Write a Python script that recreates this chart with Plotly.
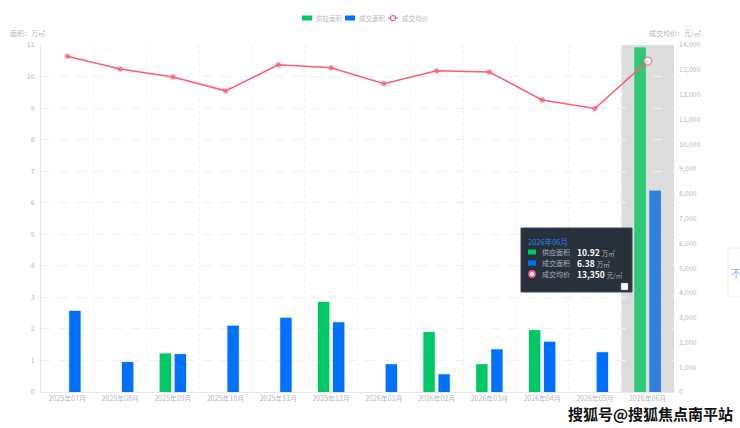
import plotly.graph_objects as go

months = ["2025年07月", "2025年08月", "2025年09月", "2025年10月", "2025年11月", "2025年12月",
          "2026年01月", "2026年02月", "2026年03月", "2026年04月", "2026年05月", "2026年06月"]
supply = [None, None, 1.22, None, None, 2.85, None, 1.90, 0.88, 1.96, None, 10.92]
deal = [2.57, 0.95, 1.20, 2.10, 2.35, 2.21, 0.88, 0.56, 1.35, 1.59, 1.26, 6.38]
price = [13550, 13030, 12710, 12150, 13200, 13080, 12440, 12960, 12910, 11780, 11440, 13350]
series_names = ["供应面积", "成交面积", "成交均价"]
left_ticks = list(range(0, 12))
right_ticks = list(range(0, 15000, 1000))

W, H = 740, 428
PL, PR, PT, PB = 41, 674, 45, 392

def px(x):
    return (x - PL) / (PR - PL)

def py(y):
    return (PB - y) / (PB - PT)

GREEN = "#00c864"
BLUE = "#0070ff"
RED = "#ff5a78"
TXT = "#b4b8c4"
FONT = "Noto Sans CJK SC"
hi = len(months) - 1

green_cols = [GREEN] * len(months)
blue_cols = [BLUE] * len(months)
green_cols[hi] = "#2ec874"
blue_cols[hi] = "#3080dc"

fig = go.Figure()
fig.add_trace(go.Bar(x=months, y=supply, name=series_names[0],
                     marker=dict(color=green_cols, line=dict(color="rgba(0,200,100,0.25)", width=1))))
fig.add_trace(go.Bar(x=months, y=deal, name=series_names[1],
                     marker=dict(color=blue_cols, line=dict(color="rgba(0,112,255,0.25)", width=1))))
sizes = [4] * len(months)
sizes[hi] = 8
fills = [RED] * len(months)
fills[hi] = "white"
fig.add_trace(go.Scatter(x=months, y=price, name=series_names[2], yaxis="y2", mode="lines+markers",
                         line=dict(color=RED, width=1.5),
                         marker=dict(size=sizes, color=fills, line=dict(color=RED, width=1.3))))

shapes = []
# highlight band
shapes.append(dict(type="rect", xref="x", yref="paper", x0=hi - 0.5, x1=hi + 0.5, y0=0, y1=1,
                   fillcolor="#dcdcdc", line=dict(width=0), layer="below"))

ann = []
# axis titles
ann.append(dict(x=px(8), y=py(33), xref="paper", yref="paper", text="面积：万㎡", showarrow=False,
                xanchor="left", yanchor="middle", font=dict(size=7, color=TXT, family=FONT)))
ann.append(dict(x=px(703), y=py(33), xref="paper", yref="paper", text="成交均价：元/㎡", showarrow=False,
                xanchor="right", yanchor="middle", font=dict(size=7, color=TXT, family=FONT)))

# manual legend
ly = 18
LF = dict(size=6.5, color=TXT, family=FONT)
shapes.append(dict(type="rect", xref="paper", yref="paper", x0=px(302), x1=px(312), y0=py(15.5), y1=py(20.5),
                   fillcolor=GREEN, line=dict(width=0)))
ann.append(dict(x=px(314), y=py(ly), xref="paper", yref="paper", text=series_names[0], showarrow=False,
                xanchor="left", yanchor="middle", font=LF))
shapes.append(dict(type="rect", xref="paper", yref="paper", x0=px(345), x1=px(355), y0=py(15.5), y1=py(20.5),
                   fillcolor=BLUE, line=dict(width=0)))
ann.append(dict(x=px(357), y=py(ly), xref="paper", yref="paper", text=series_names[1], showarrow=False,
                xanchor="left", yanchor="middle", font=LF))
shapes.append(dict(type="line", xref="paper", yref="paper", x0=px(388), x1=px(398), y0=py(ly), y1=py(ly),
                   line=dict(color=RED, width=1.2)))
shapes.append(dict(type="circle", xref="paper", yref="paper", x0=px(390.5), x1=px(395.5), y0=py(ly - 2.5),
                   y1=py(ly + 2.5), fillcolor="white", line=dict(color=RED, width=1.2)))
ann.append(dict(x=px(400), y=py(ly), xref="paper", yref="paper", text=series_names[2], showarrow=False,
                xanchor="left", yanchor="middle", font=LF))

# tooltip
shapes.append(dict(type="rect", xref="paper", yref="paper", x0=px(521), x1=px(632), y0=py(228), y1=py(292),
                   fillcolor="rgba(34,42,54,0.97)", line=dict(color="#3a4452", width=1)))
ann.append(dict(x=px(526), y=py(241), xref="paper", yref="paper", text=months[hi], showarrow=False,
                xanchor="left", yanchor="middle", font=dict(size=7.5, color="#2a7ff0", family=FONT)))
rows = [
    (series_names[0], f"{supply[hi]:.2f}", "万㎡", GREEN, "rect"),
    (series_names[1], f"{deal[hi]:.2f}", "万㎡", BLUE, "rect"),
    (series_names[2], f"{price[hi]:,}", "元/㎡", RED, "circle"),
]
for i, (nm, val, unit, col, kind) in enumerate(rows):
    yy = 252 + i * 11
    if kind == "rect":
        shapes.append(dict(type="rect", xref="paper", yref="paper", x0=px(528), x1=px(536),
                           y0=py(yy - 2.5), y1=py(yy + 2.5), fillcolor=col, line=dict(width=0)))
    else:
        shapes.append(dict(type="circle", xref="paper", yref="paper", x0=px(529), x1=px(535),
                           y0=py(yy - 3), y1=py(yy + 3), fillcolor="white", line=dict(color=col, width=1.8)))
    ann.append(dict(x=px(540), y=py(yy), xref="paper", yref="paper", text=nm, showarrow=False,
                    xanchor="left", yanchor="middle", font=dict(size=7, color="#a8b0bc", family=FONT)))
    ann.append(dict(x=px(575), y=py(yy), xref="paper", yref="paper",
                    text=f"<b>{val}</b> <span style='font-size:6.5px;color:#a8b0bc'>{unit}</span>",
                    showarrow=False, xanchor="left", yanchor="middle",
                    font=dict(size=8.5, color="#ffffff", family=FONT)))
shapes.append(dict(type="rect", xref="paper", yref="paper", x0=px(621), x1=px(628), y0=py(283), y1=py(290),
                   fillcolor="white", line=dict(color="#888", width=0.5)))

# side widget
shapes.append(dict(type="rect", xref="paper", yref="paper", x0=px(728), x1=px(745), y0=py(248), y1=py(297),
                   fillcolor="white", line=dict(color="#eceef2", width=1)))
ann.append(dict(x=px(729), y=py(272), xref="paper", yref="paper", text="不", showarrow=False,
                xanchor="left", yanchor="middle", font=dict(size=10, color="#7fb0f0", family=FONT)))

# watermark
ann.append(dict(x=px(735), y=py(413), xref="paper", yref="paper", text="<b>搜狐号@搜狐焦点南平站</b>",
                showarrow=False, xanchor="right", yanchor="middle",
                font=dict(size=15, color="#111111", family=FONT,
                          shadow="1px 1px 0 white, -1px -1px 0 white, 1px -1px 0 white, -1px 1px 0 white")))

fig.update_layout(
    width=W, height=H,
    margin=dict(l=PL, r=W - PR, t=PT, b=H - PB, pad=0),
    paper_bgcolor="white", plot_bgcolor="white",
    barmode="group", bargap=0.43, bargroupgap=0.25,
    showlegend=False, hovermode=False,
    font=dict(family=FONT, size=7, color=TXT),
    shapes=shapes, annotations=ann,
    xaxis=dict(type="category", range=[-0.5, len(months) - 0.5], autorange=False,
               tickson="boundaries", showgrid=True, gridcolor="#f2f3f5", griddash="dot",
               gridwidth=1, showline=True, linecolor="#e6e8ec", linewidth=1, ticks="",
               tickfont=dict(size=7, color=TXT), zeroline=False, fixedrange=True, automargin=False),
    yaxis=dict(range=[0, 11], tickvals=left_ticks, showgrid=True, gridcolor="#f0f1f3", griddash="dash",
               showline=True, linecolor="#e6e8ec", ticks="", zeroline=False, automargin=False,
               tickfont=dict(size=7, color=TXT), ticklabelstandoff=4),
    yaxis2=dict(range=[0, 14000], tickvals=right_ticks, tickformat=",", overlaying="y", side="right",
                showgrid=False, showline=False, ticks="", zeroline=False, automargin=False,
                tickfont=dict(size=7, color=TXT), ticklabelstandoff=4),
)

fig.write_html("out.html", config={"displayModeBar": False},
               post_script="document.body.style.margin='0';document.body.style.overflow='hidden';")
